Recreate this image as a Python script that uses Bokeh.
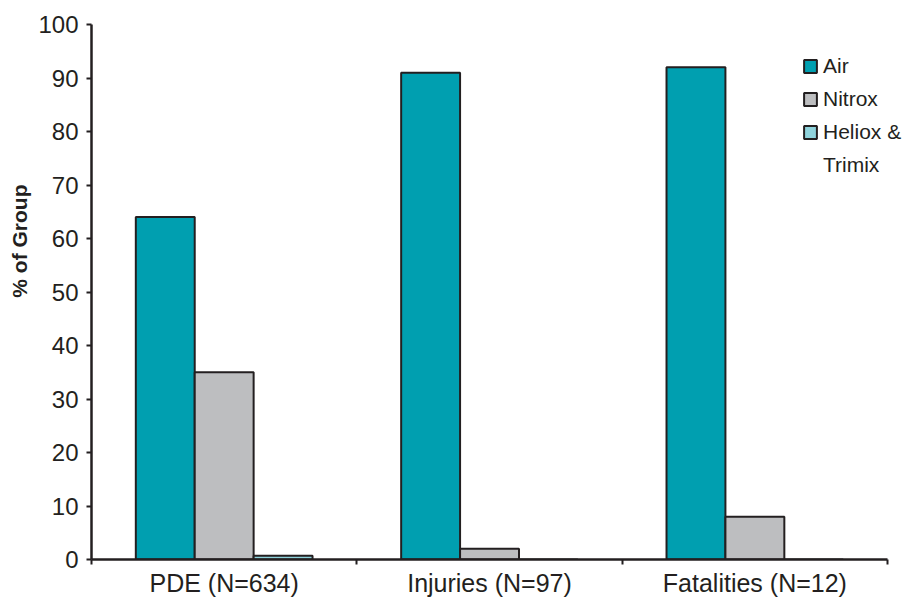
from bokeh.plotting import figure
from bokeh.models import Range1d, FixedTicker, Legend, LegendItem, Title, ColumnDataSource
from bokeh.embed import file_html
from bokeh.resources import INLINE

categories = ["PDE (N=634)", "Injuries (N=97)", "Fatalities (N=12)"]
series_names = ["Air", "Nitrox", "Heliox &"]
series_name_line2 = "Trimix"
air = [64, 91, 92]
nitrox = [35, 2, 8]
heliox_trimix = [0.7, 0, 0]
y_ticks = [0, 10, 20, 30, 40, 50, 60, 70, 80, 90, 100]

colors = ["#009FB0", "#BDBEC0", "#8FD3DC"]
ink = "#231F20"
font = "Liberation Sans"

n = len(categories)
bar_w = 0.222
offsets = [-bar_w, 0.0, bar_w]
centers = [i + 0.5 for i in range(n)]

# frame: 798 px for the 3 categories, plus room on the right for the legend
frame_w = 820
x_end = n * frame_w / 798.0

p = figure(width=909, height=599, x_range=Range1d(0, x_end), y_range=Range1d(0, 100),
           output_backend="svg", toolbar_location=None,
           min_border_left=89, min_border_right=0, min_border_top=24, min_border_bottom=0)
p.outline_line_color = None
p.grid.visible = False
p.background_fill_color = "white"
p.border_fill_color = "white"

items = []
for vals, name, col, off in zip([air, nitrox, heliox_trimix], series_names, colors, offsets):
    src = ColumnDataSource(dict(x=[c + off for c in centers], top=vals))
    r = p.vbar(x="x", top="top", width=bar_w, bottom=0, source=src,
               fill_color=col, line_color=ink, line_width=2)
    items.append(LegendItem(label=name, renderers=[r]))

# second line of the last legend label (no swatch)
blank = p.vbar(x=[], top=[], width=bar_w, fill_alpha=0, line_alpha=0)
items.append(LegendItem(label=series_name_line2, renderers=[blank]))

# axes
xa = p.xaxis[0]
xa.bounds = (0, n)
xa.ticker = FixedTicker(ticks=centers, minor_ticks=list(range(n + 1)))
xa.major_label_overrides = {c: lab for c, lab in zip(centers, categories)}
xa.major_tick_line_color = None
xa.minor_tick_in = 0
xa.minor_tick_out = 5
xa.minor_tick_line_width = 2
xa.minor_tick_line_color = ink
xa.axis_line_width = 2.5
xa.axis_line_color = ink
xa.major_label_text_font = font
xa.major_label_text_font_size = "25px"
xa.major_label_text_color = ink
xa.major_label_standoff = 3

ya = p.yaxis[0]
ya.ticker = FixedTicker(ticks=y_ticks, minor_ticks=[])
ya.major_tick_in = 0
ya.major_tick_out = 5
ya.major_tick_line_width = 2
ya.major_tick_line_color = ink
ya.axis_line_width = 2.5
ya.axis_line_color = ink
ya.major_label_text_font = font
ya.major_label_text_font_size = "24px"
ya.major_label_text_color = ink
ya.major_label_standoff = 8

p.add_layout(Title(text="% of Group", align="right", offset=160,
                   text_font=font, text_font_size="21px", text_font_style="bold",
                   text_color=ink), "left")

legend = Legend(items=items, location=(711, 382), border_line_color=None,
                background_fill_alpha=0, padding=0, margin=0, spacing=9,
                glyph_width=16, glyph_height=16, label_standoff=5, label_height=24,
                label_text_font=font, label_text_font_size="21px", label_text_color=ink)
p.add_layout(legend)

open("out.html", "w").write(file_html(p, INLINE))
